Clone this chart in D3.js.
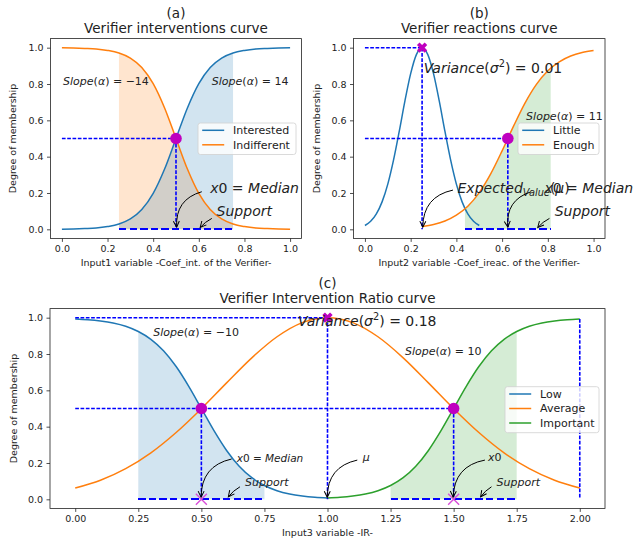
<!DOCTYPE html>
<html><head><meta charset="utf-8">
<script src="https://cdn.jsdelivr.net/npm/d3@7"></script>
<style>body{margin:0;background:#fff} text{font-family:"DejaVu Sans",sans-serif}</style>
</head><body><svg id="c" width="633" height="540"></svg>
<script>
// ---------------- DATA ----------------
// (a) Verifier interventions curve
const aX = [0,0.05,0.1,0.15,0.2,0.25,0.3,0.35,0.4,0.45,0.5,0.55,0.6,0.65,0.7,0.75,0.8,0.85,0.9,0.95,1.0];
const aInterested = [0.001,0.002,0.004,0.007,0.015,0.029,0.057,0.109,0.198,0.332,0.5,0.668,0.802,0.891,0.943,0.971,0.985,0.993,0.996,0.998,0.999];
const aIndifferent = [0.999,0.998,0.996,0.993,0.985,0.971,0.943,0.891,0.802,0.668,0.5,0.332,0.198,0.109,0.057,0.029,0.015,0.007,0.004,0.002,0.001];
// (b) Verifier reactions curve
const bLittleX = [0,0.025,0.05,0.075,0.1,0.125,0.15,0.175,0.2,0.225,0.25,0.275,0.3,0.325,0.35,0.375,0.4,0.425,0.45,0.475,0.5];
const bLittle = [0.021,0.044,0.085,0.151,0.249,0.381,0.539,0.707,0.857,0.962,1.0,0.962,0.857,0.707,0.539,0.381,0.249,0.151,0.085,0.044,0.021];
const bEnoughX = [0.25,0.3,0.35,0.4,0.45,0.5,0.55,0.6,0.65,0.7,0.75,0.8,0.85,0.9,0.95,1.0];
const bEnough = [0.016,0.027,0.046,0.078,0.127,0.202,0.305,0.432,0.568,0.695,0.798,0.873,0.922,0.954,0.973,0.984];
// (c) Verifier Intervention Ratio curve
const cLowX = [0,0.05,0.1,0.15,0.2,0.25,0.3,0.35,0.4,0.45,0.5,0.55,0.6,0.65,0.7,0.75,0.8,0.85,0.9,0.95,1.0];
const cLow = [0.993,0.989,0.982,0.971,0.953,0.924,0.881,0.818,0.731,0.622,0.5,0.378,0.269,0.182,0.119,0.076,0.047,0.029,0.018,0.011,0.007];
const cAvgX = [0,0.1,0.2,0.3,0.4,0.5,0.6,0.7,0.8,0.9,1.0,1.1,1.2,1.3,1.4,1.5,1.6,1.7,1.8,1.9,2.0];
const cAvg = [0.062,0.105,0.169,0.256,0.368,0.499,0.641,0.779,0.895,0.973,1.0,0.973,0.895,0.779,0.641,0.499,0.368,0.256,0.169,0.105,0.062];
const cImpX = [1.0,1.05,1.1,1.15,1.2,1.25,1.3,1.35,1.4,1.45,1.5,1.55,1.6,1.65,1.7,1.75,1.8,1.85,1.9,1.95,2.0];
const cImp = [0.007,0.011,0.018,0.029,0.047,0.076,0.119,0.182,0.269,0.378,0.5,0.622,0.731,0.818,0.881,0.924,0.953,0.971,0.982,0.989,0.993];

// ticks
const abXTicks = [0,0.2,0.4,0.6,0.8,1.0];
const cXTicks = [0,0.25,0.5,0.75,1.0,1.25,1.5,1.75,2.0];
const yTicks = [0,0.2,0.4,0.6,0.8,1.0];

// labels
const panelLetters = ["(a)","(b)","(c)"];
const titles = ["Verifier interventions curve","Verifier reactions curve","Verifier Intervention Ratio curve"];
const xLabels = ["Input1 variable -Coef_int. of the Verifier-","Input2 variable -Coef_ireac. of the Verifier-","Input3 variable -IR-"];
const yLabel = "Degree of membership";
const aLegend = ["Interested","Indifferent"];
const bLegend = ["Little","Enough"];
const cLegend = ["Low","Average","Important"];

// supports, guides, markers
const aSupport = [[0.25,0.75]];
const bSupport = [[0.4375,0.8125]];
const cSupport = [[0.25,0.75],[1.25,1.75]];
const aGuides = [[0,0.5,0.5,0.5],[0.5,0.5,0.5,0]];
const bGuides = [[0,1,0.25,1],[0.25,1,0.25,0],[0,0.5,0.625,0.5],[0.625,0.5,0.625,0]];
const cGuides = [[0,1,1,1],[1,1,1,0],[0,0.5,1.5,0.5],[0.5,0.5,0.5,0],[1.5,0.5,1.5,0],[2,0.993,2,0]];
const aCircles = [[0.5,0.5]], bCircles = [[0.625,0.5]], cCircles = [[0.5,0.5],[1.5,0.5]];
const bCrosses = [[0.25,1]], cCrosses = [[1,1]];
const cSmallX = [[0.5,0],[1.5,0]];

// ---------------- DRAW ----------------
const C = {blue:"#1f77b4", orange:"#ff7f0e", green:"#2ca02c", guide:"#0000ff", mark:"#bf00bf", text:"#222"};
const svg = d3.select("#c");
svg.append("rect").attr("width",633).attr("height",540).attr("fill","#fff");
const defs = svg.append("defs");
defs.append("marker").attr("id","ah").attr("viewBox","-8 -5 10 10").attr("refX",0).attr("refY",0)
  .attr("markerWidth",10).attr("markerHeight",10).attr("markerUnits","userSpaceOnUse").attr("orient","auto")
  .append("path").attr("d","M-6,-3L0,0L-6,3").attr("fill","none").attr("stroke","#000").attr("stroke-width",1);

function mtext(g, px, py, runs, size, anchor) {
  const t = g.append("text").attr("x",px).attr("y",py).attr("font-size",size).attr("fill",C.text);
  if (anchor) t.attr("text-anchor",anchor);
  let shift = 0;
  runs.forEach(r => {
    const f = r[1] || "";
    const ts = t.append("tspan").text(r[0]);
    if (f.includes("i")) ts.attr("font-style","italic");
    let want = 0;
    if (f.includes("^")) { want = -size*0.42; ts.attr("font-size", size*0.7); }
    if (f.includes("_")) { want = size*0.22; ts.attr("font-size", size*0.7); }
    if (want !== shift) { ts.attr("dy", want - shift); shift = want; }
  });
  return t;
}

function drawPanel(p) {
  const x = d3.scaleLinear().domain(p.xd).range([p.left,p.right]);
  const y = d3.scaleLinear().domain([-0.05,1.05]).range([p.bottom,p.top]);
  const g = svg.append("g");
  const line = d3.line().x(d=>x(d[0])).y(d=>y(d[1])).curve(d3.curveMonotoneX);
  const zip = (xs,ys)=>xs.map((v,i)=>[v,ys[i]]);
  // fills
  p.fills.forEach((f,i)=>{
    const id = p.id+"clip"+i;
    defs.append("clipPath").attr("id",id).append("rect")
      .attr("x",x(f.range[0])).attr("width",x(f.range[1])-x(f.range[0]))
      .attr("y",p.top).attr("height",p.bottom-p.top);
    g.append("path").datum(zip(f.xs,f.ys)).attr("clip-path",`url(#${id})`)
      .attr("fill",f.color).attr("fill-opacity",0.2).attr("stroke","none")
      .attr("d", d3.area().x(d=>x(d[0])).y0(y(0)).y1(d=>y(d[1])).curve(d3.curveMonotoneX));
  });
  // curves
  p.series.forEach(s=>{
    g.append("path").datum(zip(s.xs,s.ys)).attr("fill","none").attr("stroke",s.color)
      .attr("stroke-width",1.5).attr("d",line);
  });
  // guides
  p.guides.forEach(d=>{
    g.append("line").attr("x1",x(d[0])).attr("y1",y(d[1])).attr("x2",x(d[2])).attr("y2",y(d[3]))
      .attr("stroke",C.guide).attr("stroke-width",1.6).attr("stroke-dasharray","3.7,1.6");
  });
  p.support.forEach(d=>{
    g.append("line").attr("x1",x(d[0])).attr("y1",y(0)).attr("x2",x(d[1])).attr("y2",y(0))
      .attr("stroke",C.guide).attr("stroke-width",2).attr("stroke-dasharray","7.4,3.2")
      .attr("shape-rendering","crispEdges");
  });
  // markers
  (p.smallx||[]).forEach(d=>{
    const cx=x(d[0]), cy=y(d[1]), r=5.5;
    g.append("path").attr("d",`M${cx-r},${cy-r}L${cx+r},${cy+r}M${cx-r},${cy+r}L${cx+r},${cy-r}`)
      .attr("stroke","#d94fd9").attr("stroke-width",1.4).attr("fill","none");
  });
  p.circles.forEach(d=>{
    g.append("circle").attr("cx",x(d[0])).attr("cy",y(d[1])).attr("r",5.8).attr("fill",C.mark);
  });
  (p.crosses||[]).forEach(d=>{
    g.append("path").attr("d",d3.symbol().type(d3.symbolCross).size(66)())
      .attr("transform",`translate(${x(d[0])},${y(d[1])}) rotate(45)`).attr("fill",C.mark);
  });
  // axes
  const xa = g.append("g").attr("transform",`translate(0,${p.bottom})`)
    .call(d3.axisBottom(x).tickValues(p.xticks).tickFormat(d3.format(p.xfmt)).tickSize(3.5).tickPadding(3.5).tickSizeOuter(0));
  const ya = g.append("g").attr("transform",`translate(${p.left},0)`)
    .call(d3.axisLeft(y).tickValues(yTicks).tickFormat(d3.format(".1f")).tickSize(3.5).tickPadding(3.5).tickSizeOuter(0));
  [xa,ya].forEach(a=>{
    a.select(".domain").remove();
    a.selectAll(".tick line").attr("stroke","#222").attr("stroke-width",0.8);
    a.selectAll(".tick text").attr("font-size",9.5).attr("fill",C.text).attr("font-family","DejaVu Sans");
  });
  g.append("rect").attr("x",p.left).attr("y",p.top).attr("width",p.right-p.left).attr("height",p.bottom-p.top)
    .attr("fill","none").attr("stroke","#222").attr("stroke-width",0.8);
  // titles and labels
  const cxm = (p.left+p.right)/2;
  g.append("text").attr("x",cxm).attr("y",p.top-20.6).attr("text-anchor","middle").attr("font-size",13.5).attr("fill",C.text).text(p.letter);
  g.append("text").attr("x",cxm).attr("y",p.top-6.1).attr("text-anchor","middle").attr("font-size",13.5).attr("fill",C.text).text(p.title);
  g.append("text").attr("x",cxm).attr("y",p.bottom+27.5).attr("text-anchor","middle").attr("font-size",9.5).attr("fill",C.text).text(p.xlabel);
  g.append("text").attr("transform",`translate(${p.ylabX},${(p.top+p.bottom)/2}) rotate(-90)`)
    .attr("text-anchor","middle").attr("font-size",9.5).attr("fill",C.text).text(yLabel);
  // legend
  const L = p.legend;
  const lg = g.append("g");
  lg.append("rect").attr("x",L.x).attr("y",L.y).attr("width",L.w).attr("height",L.items.length*14.5+2.5)
    .attr("rx",2.5).attr("fill","#fff").attr("fill-opacity",0.8).attr("stroke","#d0d0d0").attr("stroke-width",0.8);
  L.items.forEach((it,i)=>{
    const yy = L.y + 7.3 + i*14.5;
    lg.append("line").attr("x1",L.x+4.2).attr("x2",L.x+26.2).attr("y1",yy).attr("y2",yy).attr("stroke",it[1]).attr("stroke-width",1.5);
    lg.append("text").attr("x",L.x+35).attr("y",yy+3.9).attr("font-size",11).attr("fill",C.text).text(it[0]);
  });
  // annotations
  p.notes.forEach(n=>{
    mtext(g, x(n.at[0]), y(n.at[1]), n.runs, n.size);
    if (n.arrow) {
      const S=[x(n.arrow[0]),y(n.arrow[1])], E=[x(n.arrow[2]),y(n.arrow[3])];
      const dx=E[0]-S[0], dy=E[1]-S[1], r=n.rad||0;
      const Cp=[(S[0]+E[0])/2 - r*dy, (S[1]+E[1])/2 + r*dx];
      g.append("path").attr("d",`M${S[0]},${S[1]}Q${Cp[0]},${Cp[1]} ${E[0]},${E[1]}`)
        .attr("fill","none").attr("stroke","#000").attr("stroke-width",1).attr("marker-end","url(#ah)");
    }
  });
}

const slopeRuns = v => [["Slope","i"],["("],["α","i"],[") = "+v]];
const varRuns = v => [["Variance","i"],["("],["σ","i"],["2","^"],[") = "+v]];
const x0Med = [["x","i"],["0 = "],["Median","i"]];
const supp = [["Support","i"]];

drawPanel({
  id:"a", left:50.5, right:301.5, top:38.6, bottom:238.4, xd:[-0.05,1.05], xticks:abXTicks, xfmt:".1f",
  letter:panelLetters[0], title:titles[0], xlabel:xLabels[0], ylabX:16,
  fills:[{xs:aX,ys:aIndifferent,color:C.orange,range:aSupport[0]},{xs:aX,ys:aInterested,color:C.blue,range:aSupport[0]}],
  series:[{xs:aX,ys:aInterested,color:C.blue},{xs:aX,ys:aIndifferent,color:C.orange}],
  guides:aGuides, support:aSupport, circles:aCircles,
  legend:{x:198,y:123,w:98,items:[[aLegend[0],C.blue],[aLegend[1],C.orange]]},
  notes:[
    {at:[0.005,0.795],runs:slopeRuns("−14"),size:11},
    {at:[0.657,0.795],runs:slopeRuns("14"),size:11},
    {at:[0.65,0.2],runs:x0Med,size:14,arrow:[0.613,0.207,0.503,0.012],rad:0.4},
    {at:[0.678,0.073],runs:supp,size:14,arrow:[0.657,0.06,0.606,0.01],rad:0.1}
  ]
});

drawPanel({
  id:"b", left:353.5, right:605, top:38.6, bottom:238.4, xd:[-0.05,1.05], xticks:abXTicks, xfmt:".1f",
  letter:panelLetters[1], title:titles[1], xlabel:xLabels[1], ylabX:319.5,
  fills:[{xs:bEnoughX,ys:bEnough,color:C.green,range:bSupport[0]}],
  series:[{xs:bLittleX,ys:bLittle,color:C.blue},{xs:bEnoughX,ys:bEnough,color:C.orange}],
  guides:bGuides, support:bSupport, circles:bCircles, crosses:bCrosses,
  legend:{x:518,y:123,w:81,items:[[bLegend[0],C.blue],[bLegend[1],C.orange]]},
  notes:[
    {at:[0.257,0.86],runs:varRuns("0.01"),size:14},
    {at:[0.705,0.6],runs:slopeRuns("11"),size:11},
    {at:[0.405,0.2],runs:[["Expected","i"],["Value","i_"],["("],["μ","i"],[")"]],size:14,arrow:[0.385,0.216,0.253,0.012],rad:0.4},
    {at:[0.785,0.2],runs:x0Med,size:14,arrow:[0.727,0.207,0.625,0.012],rad:0.4},
    {at:[0.83,0.073],runs:supp,size:14,arrow:[0.807,0.06,0.756,0.01],rad:0.1}
  ]
});

drawPanel({
  id:"c", left:50, right:605, top:308.6, bottom:508.4, xd:[-0.1,2.1], xticks:cXTicks, xfmt:".2f",
  letter:panelLetters[2], title:titles[2], xlabel:xLabels[2], ylabX:17,
  fills:[{xs:cLowX,ys:cLow,color:C.blue,range:cSupport[0]},{xs:cImpX,ys:cImp,color:C.green,range:cSupport[1]}],
  series:[{xs:cLowX,ys:cLow,color:C.blue},{xs:cAvgX,ys:cAvg,color:C.orange},{xs:cImpX,ys:cImp,color:C.green}],
  guides:cGuides, support:cSupport, circles:cCircles, crosses:cCrosses, smallx:cSmallX,
  legend:{x:505,y:386.7,w:94,items:[[cLegend[0],C.blue],[cLegend[1],C.orange],[cLegend[2],C.green]]},
  notes:[
    {at:[0.309,0.9],runs:slopeRuns("−10"),size:11},
    {at:[0.883,0.955],runs:varRuns("0.18"),size:14},
    {at:[1.307,0.795],runs:slopeRuns("10"),size:11},
    {at:[0.64,0.208],runs:x0Med,size:10.5,arrow:[0.62,0.222,0.499,0.012],rad:0.4},
    {at:[0.673,0.076],runs:supp,size:11,arrow:[0.653,0.069,0.607,0.014],rad:0.1},
    {at:[1.14,0.21],runs:[["μ","i"]],size:11,arrow:[1.118,0.216,0.999,0.011],rad:0.4},
    {at:[1.636,0.21],runs:[["x","i"],["0"]],size:11,arrow:[1.624,0.216,1.498,0.012],rad:0.4},
    {at:[1.67,0.076],runs:supp,size:11,arrow:[1.65,0.069,1.607,0.014],rad:0.1}
  ]
});
</script></body></html>
